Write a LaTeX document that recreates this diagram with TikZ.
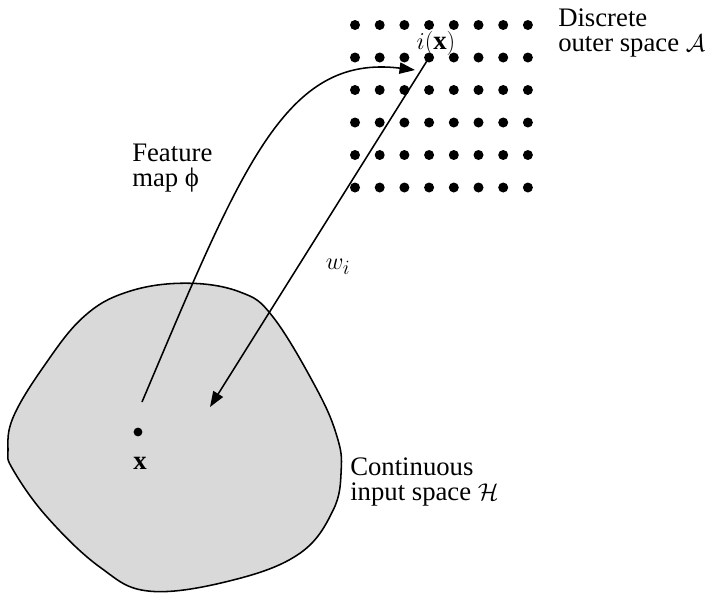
\documentclass[tikz,border=0pt]{standalone}
\usepackage{fontspec}
\setmainfont{Liberation Serif}
\usetikzlibrary{arrows.meta}

\tikzset{
  gdot/.style={circle, fill=black, inner sep=0pt, minimum size=0.25cm},
  maparrow/.style={line width=1.1pt, -{Triangle[length=11pt,width=8pt]}},
  lbl/.style={inner sep=0pt, align=left, font=\fontsize{19}{18}\selectfont},
}

\begin{document}
\begin{tikzpicture}
    \useasboundingbox (0,0) rectangle (17.775,-14.8);
    % input space
    \draw[fill=black!15, line width=1.1pt] plot[smooth cycle, tension=0.65] coordinates {
        (4.63,-7.08) (6.0,-7.3) (6.83,-7.93) (7.93,-9.75) (8.43,-10.93) (8.53,-11.75)
        (8.33,-12.75) (7.5,-13.83) (5.83,-14.5) (3.75,-14.78) (2.5,-14.18) (1.18,-12.93)
        (0.33,-11.75) (0.2,-11.25) (0.33,-10.43) (1.08,-9.18) (2.08,-7.93) (3.18,-7.3)};
    % lattice
    \foreach \c in {0,...,7}
        \foreach \r in {0,...,5}
            \node[gdot] (g-\c-\r) at ({8.875+0.6175*\c},{-0.625-0.8125*\r}) {};
    \node[gdot, minimum size=0.22cm] (xdot) at (3.45,-10.8) {};
    \node[lbl] (xlab) at (3.5,-11.575) {$\mathbf{x}$};
    \node[lbl] (ilab) at (10.9,-1.08) {$i(\mathbf{x})$};
    \node[lbl] (wlab) at (8.45,-6.675) {$w_i$};
    \node[lbl, anchor=west] (fmap) at (3.3,-4.2) {Feature\\map ϕ};
    \node[lbl, anchor=west] (outsp) at (13.95,-0.83) {Discrete\\outer space $\mathcal{A}$};
    \node[lbl, anchor=west] (insp) at (8.75,-12.05) {Continuous\\input space $\mathcal{H}$};
    % maps
    \coordinate (ftail) at (3.55,-10.05);
    \coordinate (fhead) at (10.375,-1.75);
    \coordinate (whead) at (5.25,-10.175);
    \draw[maparrow] (ftail) .. controls (6.05,-4.15) and (7.125,-1.35) .. (fhead);
    \draw[maparrow] (g-3-1.center) -- (whead);
\end{tikzpicture}
\end{document}
